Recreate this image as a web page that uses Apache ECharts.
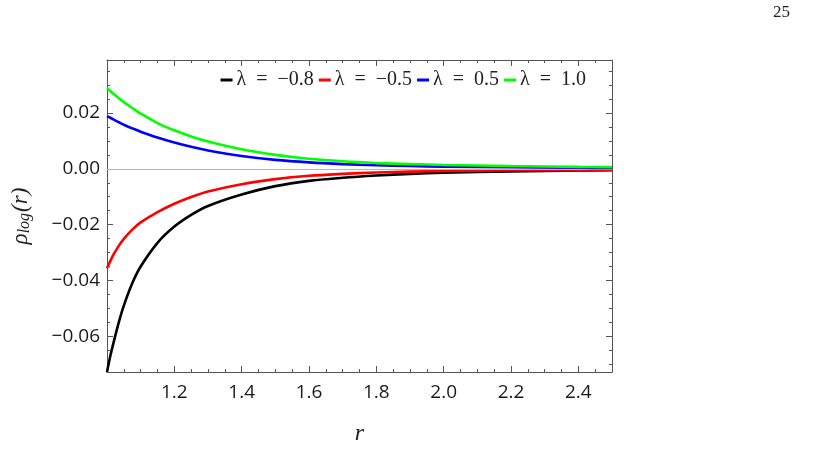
<!DOCTYPE html>
<html>
<head>
<meta charset="utf-8">
<script src="https://cdn.jsdelivr.net/npm/echarts@6/dist/echarts.min.js"></script>
<style>
  html, body { margin: 0; padding: 0; background: #fff; }
  #chart { width: 825px; height: 470px; }
</style>
</head>
<body>
<div id="chart"></div>
<script>
const rValues = [1.0, 1.01, 1.02, 1.035, 1.05, 1.075, 1.1, 1.15, 1.2, 1.25, 1.3, 1.4, 1.5, 1.6, 1.7, 1.8, 1.9, 2.0, 2.2, 2.4, 2.5];
const lamNeg08 = [-0.0728, -0.0670, -0.0620, -0.0550, -0.0490, -0.0410, -0.0350, -0.0265, -0.0207, -0.0165, -0.0133, -0.0092, -0.0062, -0.0043, -0.0032, -0.0024, -0.0018, -0.0014, -0.0009, -0.0006, -0.0005];
const lamNeg05 = [-0.0356, -0.0330, -0.0306, -0.0276, -0.0251, -0.0218, -0.0192, -0.0155, -0.0125, -0.0101, -0.0081, -0.0055, -0.0037, -0.0025, -0.0018, -0.0013, -0.0010, -0.0008, -0.0005, -0.0004, -0.0003];
const lamPos05 = [0.0189, 0.0183, 0.0176, 0.0167, 0.0158, 0.0145, 0.0133, 0.0112, 0.0094, 0.0079, 0.0066, 0.0046, 0.0032, 0.0023, 0.0017, 0.0013, 0.0010, 0.0008, 0.0006, 0.0004, 0.0003];
const lamPos10 = [0.0290, 0.0279, 0.0268, 0.0253, 0.0239, 0.0218, 0.0198, 0.0164, 0.0138, 0.0116, 0.0098, 0.0070, 0.0050, 0.0036, 0.0027, 0.0021, 0.0017, 0.0014, 0.0010, 0.0007, 0.0006];
const seriesNames = ['λ\u2002=\u2002−0.8', 'λ\u2002=\u2002−0.5', 'λ\u2002=\u20020.5', 'λ\u2002=\u20021.0'];
const xTickLabels = [1.2, 1.4, 1.6, 1.8, 2.0, 2.2, 2.4];
const yTickLabels = [-0.06, -0.04, -0.02, 0.00, 0.02];

const colors = ['#000000', '#ff0000', '#0000ff', '#00ff00'];
const frame = '#555';
const xMin = 1, xMax = 2.5, yMin = -0.0728, yMax = 0.039;

// minor ticks every 0.05 on x and 0.005 on y
const xMinor = [];
for (let i = 0; i <= 30; i++) xMinor.push(+(1 + i * 0.05).toFixed(2));
const yMinor = [];
for (let i = -14; i <= 7; i++) yMinor.push(+(i * 0.005).toFixed(3));
const xMajor = [1.0].concat(xTickLabels);

const chart = echarts.init(document.getElementById('chart'));
const sets = [lamNeg08, lamNeg05, lamPos05, lamPos10];

function xAxisDef(pos, ticks, len, labels) {
  return {
    type: 'value', position: pos, min: xMin, max: xMax,
    axisLine: { show: len > 4, onZero: false, lineStyle: { color: frame, width: 1 } },
    axisTick: { show: true, inside: true, length: len, customValues: ticks, lineStyle: { color: frame } },
    axisLabel: labels ? {
      customValues: xTickLabels, margin: 11, color: '#1a1a1a',
      fontFamily: 'Open Sans', fontSize: 19,
      formatter: v => v.toFixed(1)
    } : { show: false },
    splitLine: { show: false }
  };
}
function yAxisDef(pos, ticks, len, labels) {
  return {
    type: 'value', position: pos, min: yMin, max: yMax,
    axisLine: { show: len > 4, onZero: false, lineStyle: { color: frame, width: 1 } },
    axisTick: { show: true, inside: true, length: len, customValues: ticks, lineStyle: { color: frame } },
    axisLabel: labels ? {
      customValues: yTickLabels, margin: 7, color: '#1a1a1a',
      fontFamily: 'Open Sans', fontSize: 19,
      formatter: v => (v < 0 ? '−' : '') + Math.abs(v).toFixed(2)
    } : { show: false },
    splitLine: { show: false }
  };
}

const xAxes = [
  xAxisDef('bottom', xMajor, 6, true),
  xAxisDef('bottom', xMinor, 3, false),
  xAxisDef('top', xMajor, 6, false),
  xAxisDef('top', xMinor, 3, false)
];
xAxes[0].name = 'r';
xAxes[0].nameLocation = 'middle';
xAxes[0].nameGap = 50;
xAxes[0].nameTextStyle = { fontFamily: 'Liberation Serif', fontStyle: 'italic', fontSize: 24, color: '#222' };

const yAxes = [
  yAxisDef('left', yTickLabels, 6, true),
  yAxisDef('left', yMinor, 3, false),
  yAxisDef('right', yTickLabels, 6, false),
  yAxisDef('right', yMinor, 3, false)
];
yAxes[0].name = '{a|ρ}{s|log}{a|(r)}';
yAxes[0].nameLocation = 'middle';
yAxes[0].nameGap = 74;
yAxes[0].nameRotate = 90;
yAxes[0].nameTextStyle = {
  color: '#222',
  rich: {
    a: { fontFamily: 'Liberation Serif', fontStyle: 'italic', fontSize: 23, color: '#222' },
    s: { fontFamily: 'Liberation Serif', fontStyle: 'italic', fontSize: 16, color: '#222', verticalAlign: 'bottom', padding: [8, 1, 0, 0] }
  }
};

const series = sets.map((vals, i) => ({
  name: seriesNames[i],
  type: 'line',
  xAxisIndex: 0,
  yAxisIndex: 0,
  data: rValues.map((r, j) => [r, vals[j]]),
  smooth: 0.35,
  showSymbol: false,
  symbol: 'none',
  lineStyle: { color: colors[i], width: 2.6 },
  itemStyle: { color: colors[i] },
  z: 3 + i
}));
series[0].markLine = {
  silent: true, symbol: 'none', animation: false,
  label: { show: false },
  lineStyle: { color: '#b5b5b5', width: 1, type: 'solid' },
  data: [{ yAxis: 0 }]
};

chart.setOption({
  animation: false,
  grid: { left: 107, right: 213, top: 60, bottom: 98 },
  legend: {
    right: 234, top: 65,
    icon: 'rect', itemWidth: 12, itemHeight: 3, itemGap: 5,
    textStyle: { fontFamily: 'Liberation Serif', fontSize: 20, color: '#222', padding: [0, 0, 0, -1] },
    data: seriesNames
  },
  xAxis: xAxes,
  yAxis: yAxes,
  series: series,
  graphic: [{
    type: 'text', left: 773, top: 4,
    style: { text: '25', fontFamily: 'Liberation Serif', fontSize: 17, fill: '#222' }
  }]
});
</script>
</body>
</html>
